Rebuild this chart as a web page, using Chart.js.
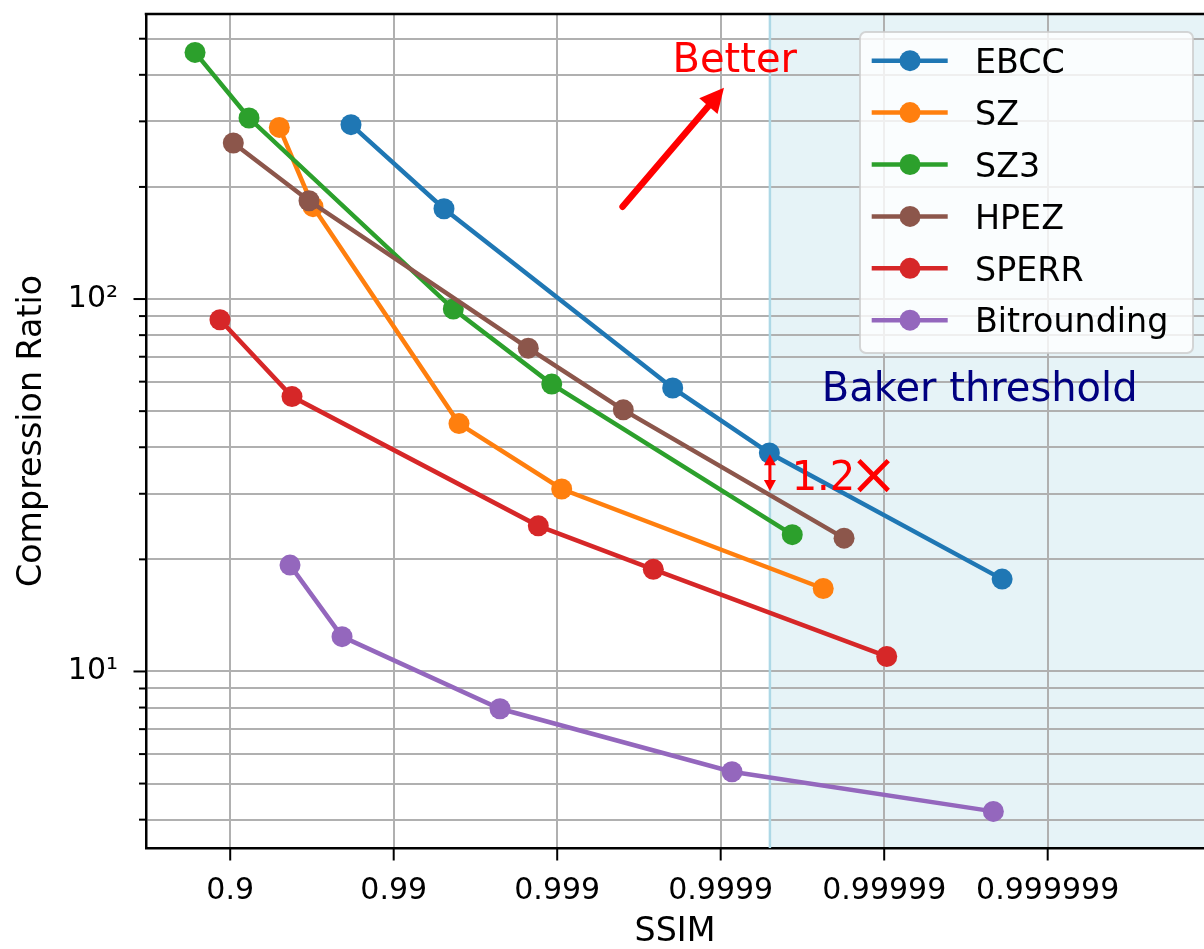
<!DOCTYPE html>
<html>
<head>
<meta charset="utf-8">
<script src="https://cdn.jsdelivr.net/npm/chart.js@4"></script>
<style>
    body { margin: 0; background: #ffffff; }
    #wrap { width: 1204px; height: 949px; position: relative; }
</style>
</head>
<body>
<div id="wrap"><canvas id="ssimChart"></canvas></div>
<script>
// series: SSIM (x) and compression ratio (y, log)
var seriesNames = ['EBCC', 'SZ', 'SZ3', 'HPEZ', 'SPERR', 'Bitrounding'];
var seriesColors = ['#1f77b4', '#ff7f0e', '#2ca02c', '#8c564b', '#d62728', '#9467bd'];

var ebccSsim = [0.98175, 0.995075, 0.9998034, 0.9999496, 0.9999981];
var ebccRatio = [293.9, 174.8, 57.7, 38.6, 17.7];

var szSsim = [0.94992, 0.96885, 0.996013, 0.9990614, 0.9999764];
var szRatio = [288.9, 177.0, 46.3, 30.9, 16.7];

var sz3Ssim = [0.8359, 0.92326, 0.995681, 0.99892, 0.9999635];
var sz3Ratio = [459.4, 306.2, 94.0, 59.1, 23.3];

var hpezSsim = [0.90427, 0.96704, 0.998497, 0.9996058, 0.9999824];
var hpezRatio = [262.4, 183.6, 73.8, 50.4, 22.8];

var sperrSsim = [0.8845, 0.95812, 0.998695, 0.9997417, 0.99999035];
var sperrRatio = [88.0, 54.7, 24.6, 18.8, 10.97];

var bitrSsim = [0.95693, 0.9793, 0.997762, 0.9999147, 0.99999785];
var bitrRatio = [19.3, 12.4, 7.94, 5.38, 4.21];

var xTickLabels = ['0.9', '0.99', '0.999', '0.9999', '0.99999', '0.999999'];
var yTickValues = [4, 5, 6, 7, 8, 9, 10, 20, 30, 40, 50, 60, 70, 80, 90, 100, 200, 300, 400, 500];
var bakerThreshold = 0.99995;

// annotation anchors in (nines, ratio)
var betterArrowFrom = [3.40, 177];
var betterArrowTo = [4.02, 369];
var betterTextAt = [4.086, 406];
var bakerTextAt = [4.618, 53.1];
var gapTextAt = [4.434, 30.7];
var gapArrow = [38.3, 30.5];

var FONT = "'DejaVu Sans', sans-serif";

// logit-style axis: number of nines of the SSIM
function nines(s) {
    return -Math.log10(1 - s);
}

var ssimList = [ebccSsim, szSsim, sz3Ssim, hpezSsim, sperrSsim, bitrSsim];
var ratioList = [ebccRatio, szRatio, sz3Ratio, hpezRatio, sperrRatio, bitrRatio];

var datasets = [];
for (let i = 0; i < seriesNames.length; i++) {
    let pts = [];
    for (let j = 0; j < ssimList[i].length; j++) {
        pts.push({x: nines(ssimList[i][j]), y: ratioList[i][j]});
    }
    datasets.push({
        label: seriesNames[i],
        data: pts,
        showLine: true,
        borderColor: seriesColors[i],
        backgroundColor: seriesColors[i],
        borderWidth: 4.5,
        pointRadius: 10.5,
        pointHoverRadius: 10.5,
        pointBorderWidth: 0,
        pointBackgroundColor: seriesColors[i],
        order: seriesNames.length - i
    });
}

function drawArrowHead(ctx, x0, y0, x1, y1, len, halfW) {
    var ang = Math.atan2(y1 - y0, x1 - x0);
    ctx.beginPath();
    ctx.moveTo(x1, y1);
    ctx.lineTo(x1 - len * Math.cos(ang) + halfW * Math.sin(ang), y1 - len * Math.sin(ang) - halfW * Math.cos(ang));
    ctx.lineTo(x1 - len * Math.cos(ang) - halfW * Math.sin(ang), y1 - len * Math.sin(ang) + halfW * Math.cos(ang));
    ctx.closePath();
    ctx.fill();
}

var decorPlugin = {
    id: 'decor',
    // the figure's axes run off the right edge, so stretch the plot to the canvas edge
    afterLayout: function (chart) {
        var a = chart.chartArea, xs = chart.scales.x;
        a.right = chart.width;
        a.width = a.right - a.left;
        xs.right = chart.width;
        xs.width = xs.right - xs.left;
        xs.configure();
    },
    beforeDraw: function (chart) {
        var ctx = chart.ctx, a = chart.chartArea;
        var tx = chart.scales.x.getPixelForValue(nines(bakerThreshold));
        ctx.save();
        ctx.fillStyle = 'rgba(173, 216, 230, 0.3)';
        ctx.fillRect(tx, a.top, a.right - tx, a.bottom - a.top);
        ctx.restore();
    },
    beforeDatasetsDraw: function (chart) {
        var ctx = chart.ctx, a = chart.chartArea;
        var tx = chart.scales.x.getPixelForValue(nines(bakerThreshold));
        ctx.save();
        ctx.strokeStyle = '#add8e6';
        ctx.lineWidth = 2.5;
        ctx.beginPath();
        ctx.moveTo(tx, a.top);
        ctx.lineTo(tx, a.bottom);
        ctx.stroke();
        ctx.restore();
    },
    afterDatasetsDraw: function (chart) {
        var ctx = chart.ctx, a = chart.chartArea;
        var xs = chart.scales.x, ys = chart.scales.y;
        ctx.save();

        // top spine
        ctx.strokeStyle = '#000000';
        ctx.lineWidth = 2.5;
        ctx.beginPath();
        ctx.moveTo(a.left - 1.25, a.top);
        ctx.lineTo(a.right, a.top);
        ctx.stroke();

        // "Better" arrow
        var x0 = xs.getPixelForValue(betterArrowFrom[0]), y0 = ys.getPixelForValue(betterArrowFrom[1]);
        var x1 = xs.getPixelForValue(betterArrowTo[0]), y1 = ys.getPixelForValue(betterArrowTo[1]);
        var ang = Math.atan2(y1 - y0, x1 - x0);
        ctx.strokeStyle = '#ff0000';
        ctx.fillStyle = '#ff0000';
        ctx.lineWidth = 6.5;
        ctx.lineCap = 'round';
        ctx.beginPath();
        ctx.moveTo(x0, y0);
        ctx.lineTo(x1 - 20 * Math.cos(ang), y1 - 20 * Math.sin(ang));
        ctx.stroke();
        drawArrowHead(ctx, x0, y0, x1, y1, 24, 12);

        ctx.font = '40px ' + FONT;
        ctx.textAlign = 'center';
        ctx.textBaseline = 'alphabetic';
        ctx.fillText('Better', xs.getPixelForValue(betterTextAt[0]), ys.getPixelForValue(betterTextAt[1]));

        // gap arrow at the threshold
        var gx = xs.getPixelForValue(nines(bakerThreshold));
        var gy0 = ys.getPixelForValue(gapArrow[0]), gy1 = ys.getPixelForValue(gapArrow[1]);
        ctx.lineWidth = 3;
        ctx.lineCap = 'butt';
        ctx.beginPath();
        ctx.moveTo(gx, gy0 + 8);
        ctx.lineTo(gx, gy1 - 8);
        ctx.stroke();
        drawArrowHead(ctx, gx, gy1, gx, gy0, 11, 6);
        drawArrowHead(ctx, gx, gy0, gx, gy1, 11, 6);

        // "1.2" plus a larger multiplication sign, as in the figure
        var gtx = xs.getPixelForValue(gapTextAt[0]), gty = ys.getPixelForValue(gapTextAt[1]);
        ctx.textAlign = 'left';
        ctx.fillText('1.2', gtx, gty);
        var w12 = ctx.measureText('1.2').width;
        ctx.font = '58px ' + FONT;
        ctx.fillText('\u00d7', gtx + w12 - 6, gty + 4);

        ctx.font = '40px ' + FONT;
        ctx.fillStyle = '#000080';
        ctx.fillText('Baker threshold', xs.getPixelForValue(bakerTextAt[0]), ys.getPixelForValue(bakerTextAt[1]));
        ctx.restore();
    },
    afterDraw: function (chart) {
        var ctx = chart.ctx, a = chart.chartArea;
        var xs = chart.scales.x, ys = chart.scales.y;
        ctx.save();

        // tick marks
        ctx.strokeStyle = '#000000';
        ctx.lineWidth = 2;
        for (let i = 0; i < yTickValues.length; i++) {
            let v = yTickValues[i];
            let len = (v === 10 || v === 100) ? 12.5 : 7;
            let py = ys.getPixelForValue(v);
            ctx.beginPath();
            ctx.moveTo(a.left - len, py);
            ctx.lineTo(a.left, py);
            ctx.stroke();
        }
        for (let i = 0; i < xTickLabels.length; i++) {
            let px = xs.getPixelForValue(nines(parseFloat(xTickLabels[i])));
            ctx.beginPath();
            ctx.moveTo(px, a.bottom);
            ctx.lineTo(px, a.bottom + 12.5);
            ctx.stroke();
        }

        // legend, upper right
        var boxL = 860, boxT = a.top + 18, boxW = 333, boxH = 321;
        ctx.fillStyle = 'rgba(255, 255, 255, 0.8)';
        ctx.strokeStyle = 'rgba(204, 204, 204, 0.8)';
        ctx.lineWidth = 2;
        ctx.beginPath();
        ctx.roundRect(boxL, boxT, boxW, boxH, 6);
        ctx.fill();
        ctx.stroke();

        ctx.font = '33.3px ' + FONT;
        ctx.textAlign = 'left';
        ctx.textBaseline = 'alphabetic';
        for (let i = 0; i < seriesNames.length; i++) {
            let ry = boxT + 28.7 + 51.9 * i;
            ctx.strokeStyle = seriesColors[i];
            ctx.fillStyle = seriesColors[i];
            ctx.lineWidth = 4.5;
            ctx.beginPath();
            ctx.moveTo(boxL + 11.7, ry);
            ctx.lineTo(boxL + 87.7, ry);
            ctx.stroke();
            ctx.beginPath();
            ctx.arc(boxL + 50, ry, 10.5, 0, Math.PI * 2);
            ctx.fill();
            ctx.fillStyle = '#000000';
            ctx.fillText(seriesNames[i], boxL + 115, ry + 12.2);
        }
        ctx.restore();
    }
};

var ctx1 = document.getElementById('ssimChart').getContext('2d');
new Chart(ctx1, {
    type: 'scatter',
    data: { datasets: datasets },
    plugins: [decorPlugin],
    options: {
        responsive: true,
        maintainAspectRatio: false,
        animation: false,
        layout: { padding: { top: 14, right: 0, left: 0, bottom: 0 } },
        plugins: {
            legend: { display: false },
            tooltip: { enabled: false }
        },
        scales: {
            x: {
                type: 'linear',
                min: 0.485,
                max: 6.956,
                afterBuildTicks: function (scale) {
                    scale.ticks = xTickLabels.map(function (l) { return {value: nines(parseFloat(l))}; });
                },
                afterFit: function (scale) {
                    scale.height = 101;
                    scale.paddingLeft = 0;
                    scale.paddingRight = 0;
                },
                ticks: {
                    autoSkip: false,
                    maxRotation: 0,
                    padding: 25,
                    color: '#000000',
                    font: { family: FONT, size: 30 },
                    callback: function (value, index) { return xTickLabels[index]; }
                },
                grid: { color: '#b0b0b0', lineWidth: 2, drawTicks: false },
                border: { color: '#000000', width: 2.5 },
                title: {
                    display: true,
                    text: 'SSIM',
                    color: '#000000',
                    font: { family: FONT, size: 33.3, lineHeight: 1.0 },
                    padding: { top: 0, bottom: 0 }
                }
            },
            y: {
                type: 'logarithmic',
                min: 3.357,
                max: 582.6,
                afterBuildTicks: function (scale) {
                    scale.ticks = yTickValues.map(function (v) { return {value: v}; });
                },
                afterFit: function (scale) {
                    scale.width = 146;
                    scale.paddingTop = 0;
                    scale.paddingBottom = 0;
                },
                ticks: {
                    autoSkip: false,
                    padding: 28,
                    color: '#000000',
                    font: { family: FONT, size: 30 },
                    callback: function (value) {
                        if (value === 10) return '10\u00b9';
                        if (value === 100) return '10\u00b2';
                        return '';
                    }
                },
                grid: { color: '#b0b0b0', lineWidth: 2, drawTicks: false },
                border: { color: '#000000', width: 2.5 },
                title: {
                    display: true,
                    text: 'Compression Ratio',
                    color: '#000000',
                    font: { family: FONT, size: 33.3, lineHeight: 1.0 },
                    padding: { top: 16, bottom: 0 }
                }
            }
        }
    }
});
</script>
</body>
</html>
